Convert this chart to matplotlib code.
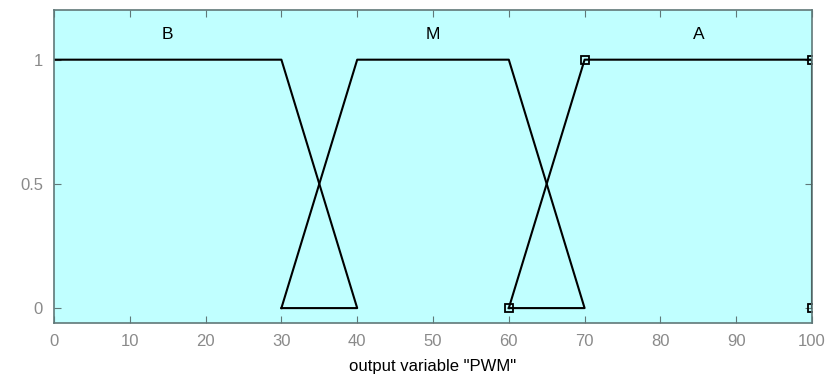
import matplotlib.pyplot as plt

plt.rcParams['font.family'] = ['Liberation Sans', 'DejaVu Sans']

# membership function vertices, output variable "PWM"
b_x = [0, 30, 40, 30]
b_y = [1, 1, 0, 0]
m_x = [30, 40, 60, 70, 60]
m_y = [0, 1, 1, 0, 0]
a_x = [60, 70, 100, 100]
a_y = [0, 1, 1, 0]
mf_names = ["B", "M", "A"]
mf_centers = [15, 50, 85]

xticks = list(range(0, 101, 10))
yticks = [0, 0.5, 1]
ytick_labels = ["0", "0.5", "1"]

fig = plt.figure(figsize=(8.3, 3.88), dpi=100)
ax = fig.add_axes([54 / 830, 1 - 323 / 388, 758 / 830, 313 / 388])
ax.set_facecolor("#c0ffff")

ax.plot(b_x, b_y, color="black", lw=1.5)
ax.plot(m_x, m_y, color="black", lw=1.5)
ax.plot(a_x, a_y, color="black", lw=1.5)
ax.plot(a_x, a_y, ls="none", marker="s", ms=6, mfc="none", mec="black", mew=1.3)

for name, cx in zip(mf_names, mf_centers):
    ax.text(cx, 1.1, name, ha="center", va="center", fontsize=12.5, color="black")

ax.set_xlim(0, 100)
ax.set_ylim(-0.06, 1.2)
ax.set_xticks(xticks)
ax.set_yticks(yticks)
ax.set_yticklabels(ytick_labels)

edge = "#607878"
for s in ax.spines.values():
    s.set_color(edge)
    s.set_linewidth(1.2)
ax.tick_params(direction="in", top=True, right=True, length=5, color=edge,
               labelcolor="#8a8a8a", labelsize=12, pad=8)
ax.set_xlabel('output variable "PWM"', fontsize=12, labelpad=7)

fig.savefig("out.png", dpi=100)
